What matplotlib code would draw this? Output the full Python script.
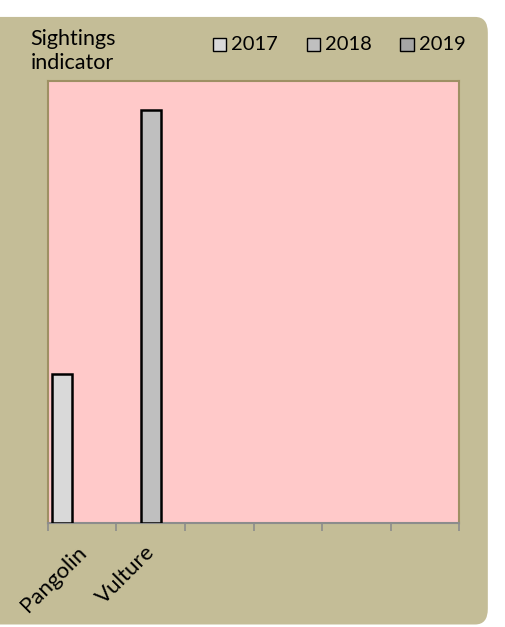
import numpy as np
import matplotlib
matplotlib.use("Agg")
import matplotlib.pyplot as plt
from matplotlib.patches import FancyBboxPatch, Rectangle
from matplotlib.transforms import ScaledTranslation

plt.rcParams['font.family'] = ['Lato', 'DejaVu Sans']

# data (no y scale shown, values are relative)
categories = ["Pangolin", "Vulture", "", "", "", ""]
years = ["2017", "2018", "2019"]
v2017 = [36, 0, 0, 0, 0, 0]
v2018 = [0, 100, 0, 0, 0, 0]
v2019 = [0, 0, 0, 0, 0, 0]
colors = ["#d9d9d9", "#bfbfbf", "#a6a6a6"]

fig = plt.figure(figsize=(5.05, 6.27), dpi=100)
fig.patch.set_facecolor("white")

# khaki rounded panel behind everything
panel = FancyBboxPatch((-0.03, 0.004), 0.996, 0.969, boxstyle="round,pad=0,rounding_size=0.025",
                       transform=fig.transFigure, facecolor="#c4bd97", edgecolor="none", zorder=-5)
fig.patches.append(panel)

ax = fig.add_axes([0.095, 0.1663, 0.814, 0.7045])
ax.set_facecolor("#ffc9c9")

x = np.arange(len(categories))
w = 0.29
for i, (vals, col) in enumerate(zip([v2017, v2018, v2019], colors)):
    xs = x + (i - 1) * w
    keep = [j for j, v in enumerate(vals) if v > 0]
    ax.bar(xs[keep], np.array(vals)[keep], width=w, color=col, edgecolor="black", linewidth=1.8, zorder=3)

ax.set_xlim(-0.5, len(categories) - 0.5)
ax.set_ylim(0, 107)
ax.set_yticks([])
ax.set_xticks(np.arange(len(categories) + 1) - 0.5, minor=False)
ax.set_xticklabels([])
ax.tick_params(axis="x", length=6, color="#8c8c8c", width=1.2, direction="out")
ax.set_xticks(x, minor=True)
ax.set_xticklabels(categories, minor=True, rotation=45, ha="right", va="top", fontsize=16,
                   rotation_mode="anchor")
ax.tick_params(axis="x", which="minor", length=0, pad=14)
shift = ScaledTranslation(-6 / 100, 0, fig.dpi_scale_trans)
for lab in ax.get_xticklabels(minor=True):
    lab.set_transform(lab.get_transform() + shift)

for side in ["top", "left", "right"]:
    ax.spines[side].set_color("#9e9064")
    ax.spines[side].set_linewidth(1.5)
ax.spines["bottom"].set_color("#8c8c8c")
ax.spines["bottom"].set_linewidth(1.5)

fig.text(0.06, 0.953, "Sightings\nindicator", fontsize=15.5, va="top", ha="left", linespacing=1.2)

# legend as squares + labels
for yr, col, lx in zip(years, colors, [0.421, 0.607, 0.793]):
    fig.patches.append(Rectangle((lx, 0.919), 0.026, 0.021, transform=fig.transFigure,
                                 facecolor=col, edgecolor="black", linewidth=1.0, zorder=2))
    fig.text(lx + 0.036, 0.929, yr, fontsize=14.5, va="center", ha="left")

plt.savefig("out.png", dpi=100)
